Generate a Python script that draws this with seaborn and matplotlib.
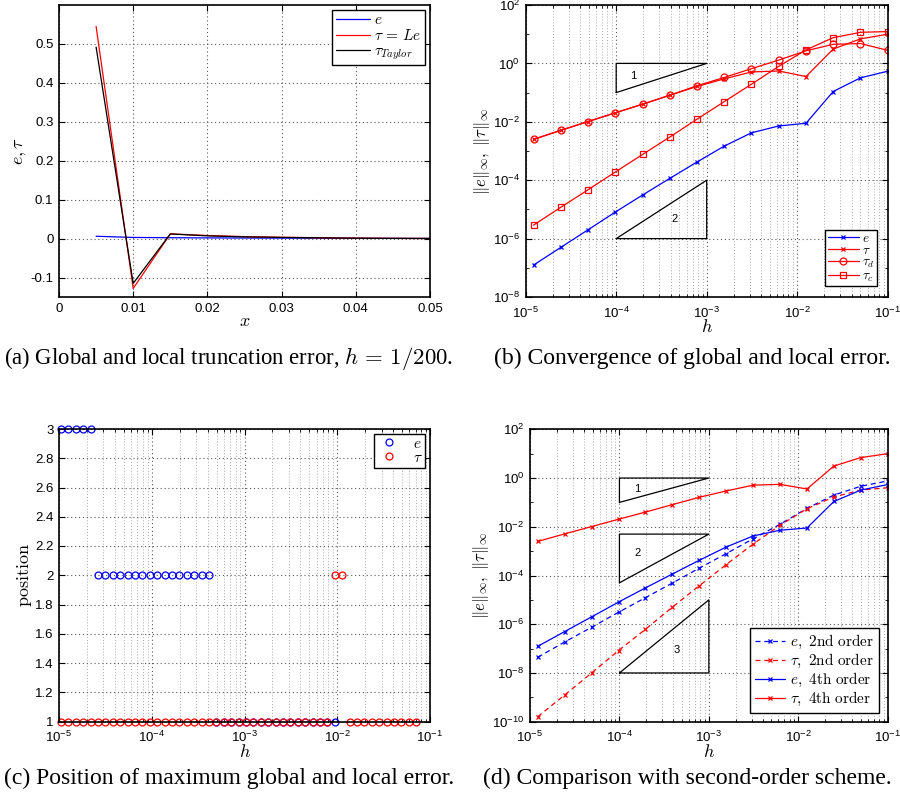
import numpy as np
import pandas as pd
import matplotlib
matplotlib.use("Agg")
import matplotlib.pyplot as plt
import seaborn as sns
from matplotlib.ticker import FixedLocator, FuncFormatter, NullFormatter, LogLocator

# ---------------- data ----------------
# (a) global / local truncation error, h = 1/200
x_a = [0.005, 0.010, 0.015, 0.020, 0.025, 0.030, 0.035, 0.040, 0.045, 0.050, 0.055]
e_a = [0.006, 0.003, 0.0022, 0.0018, 0.0015, 0.0012, 0.0010, 0.0008, 0.0006, 0.0004, 0.0003]
tau_a = [0.545, -0.128, 0.012, 0.008, 0.005, 0.0035, 0.0022, 0.0012, 0.0006, 0.0003, 0.0002]
taylor_a = [0.492, -0.115, 0.012, 0.007, 0.0045, 0.003, 0.002, 0.001, 0.0005, 0.0003, 0.0002]

# (b), (d) convergence
h = [1.2207e-5, 2.4414e-5, 4.8828e-5, 9.7656e-5, 1.9531e-4, 3.9063e-4, 7.8125e-4,
     1.5625e-3, 3.125e-3, 6.25e-3, 1.25e-2, 2.5e-2, 5e-2, 1e-1]
e_conv = [1.24e-7, 5.0e-7, 2.0e-6, 8.1e-6, 3.1e-5, 1.15e-4, 4.2e-4,
          1.47e-3, 4.2e-3, 7.2e-3, 8.9e-3, 0.109, 0.32, 0.54]
tau_conv = [2.5e-3, 5.1e-3, 0.0102, 0.0203, 0.040, 0.081, 0.162,
            0.295, 0.51, 0.55, 0.355, 3.1, 6.9, 10.0]
tau_d = [2.5e-3, 5.1e-3, 0.0102, 0.0203, 0.040, 0.081, 0.172,
         0.33, 0.66, 1.3, 2.7, 4.5, 4.8, 2.8]
tau_c = [2.9e-6, 1.18e-5, 4.7e-5, 1.9e-4, 7.6e-4, 3.0e-3, 0.0123,
         0.049, 0.194, 0.79, 2.9, 7.6, 11.6, 12.3]
e_2nd = [4.4e-8, 1.87e-7, 7.5e-7, 3.1e-6, 1.23e-5, 4.9e-5, 2.0e-4,
         7.9e-4, 3.2e-3, 0.0126, 0.057, 0.20, 0.46, 0.76]
tau_2nd = [1.6e-10, 1.25e-9, 1.0e-8, 8.3e-8, 6.2e-7, 5.0e-6, 3.8e-5,
           2.8e-4, 1.95e-3, 0.0115, 0.055, 0.166, 0.32, 0.40]

# slope triangles (vertices)
tri_b1_x = [1e-4, 1e-3, 1e-4, 1e-4]; tri_b1_y = [0.1, 1.0, 1.0, 0.1]
tri_b2_x = [1e-4, 1e-3, 1e-3, 1e-4]; tri_b2_y = [1e-6, 1e-4, 1e-6, 1e-6]
tri_d1_x = [1e-4, 1e-3, 1e-4, 1e-4]; tri_d1_y = [0.1, 1.0, 1.0, 0.1]
tri_d2_x = [1e-4, 1e-3, 1e-4, 1e-4]; tri_d2_y = [5e-5, 5e-3, 5e-3, 5e-5]
tri_d3_x = [1e-4, 1e-3, 1e-3, 1e-4]; tri_d3_y = [1e-8, 1e-5, 1e-8, 1e-8]

# (c) position of maximum error
h_pos = [1.052e-5, 1.264e-5, 1.519e-5, 1.825e-5, 2.193e-5, 2.635e-5, 3.166e-5, 3.805e-5,
         4.572e-5, 5.494e-5, 6.602e-5, 7.933e-5, 9.532e-5, 1.145e-4, 1.376e-4, 1.654e-4,
         1.987e-4, 2.388e-4, 2.870e-4, 3.448e-4, 4.143e-4, 4.979e-4, 5.983e-4, 7.190e-4,
         8.640e-4, 1.038e-3, 1.248e-3, 1.499e-3, 1.802e-3, 2.165e-3, 2.602e-3, 3.126e-3,
         3.757e-3, 4.514e-3, 5.425e-3, 6.519e-3, 7.833e-3, 9.413e-3, 1.131e-2, 1.359e-2,
         1.633e-2, 1.963e-2, 2.359e-2, 2.835e-2, 3.406e-2, 4.093e-2, 4.918e-2, 5.910e-2,
         7.102e-2]
pos_e = [3, 3, 3, 3, 3,
         2, 2, 2, 2, 2, 2, 2, 2, 2, 2, 2, 2, 2, 2, 2, 2,
         1, 1, 1, 1, 1, 1, 1, 1, 1, 1, 1, 1, 1, 1, 1, 1, 1]
pos_tau = [1, 1, 1, 1, 1, 1, 1, 1, 1, 1, 1, 1, 1, 1, 1, 1, 1, 1, 1, 1,
           1, 1, 1, 1, 1, 1, 1, 1, 1, 1, 1, 1, 1, 1, 1, 1, 1,
           2, 2,
           1, 1, 1, 1, 1, 1, 1, 1, 1, 1]

# ---------------- style ----------------
sns.set_theme(style="ticks")
plt.rcParams.update({
    "font.family": ["Liberation Sans", "DejaVu Sans"],
    "mathtext.fontset": "cm",
    "axes.edgecolor": "black",
    "axes.linewidth": 1.2,
    "axes.labelcolor": "black",
    "text.color": "black",
    "xtick.color": "black", "ytick.color": "black",
    "xtick.labelsize": 9.5, "ytick.labelsize": 9.5,
    "xtick.direction": "in", "ytick.direction": "in",
    "xtick.top": True, "ytick.right": True,
    "xtick.major.size": 4, "ytick.major.size": 4,
    "xtick.minor.size": 2, "ytick.minor.size": 2,
    "xtick.major.width": 0.8, "ytick.major.width": 0.8,
    "xtick.minor.width": 0.6, "ytick.minor.width": 0.6,
    "xtick.major.pad": 6, "ytick.major.pad": 4,
    "legend.fancybox": False,
})

W, H = 900, 801
fig = plt.figure(figsize=(9.0, 8.01), dpi=100)


def px_axes(l, t, r, b):
    return fig.add_axes([l / W, 1 - b / H, (r - l) / W, (b - t) / H])


ax_a = px_axes(59, 5, 430, 297)
ax_b = px_axes(525.7, 5, 887.7, 297)
ax_c = px_axes(59, 429, 430, 721.5)
ax_d = px_axes(530, 429.3, 887.7, 721.7)

grid_major = dict(ls=(0, (1, 2.5)), color="0.35", lw=0.8)
grid_minor = dict(ls=(0, (1, 2.5)), color="0.55", lw=0.6)
lab_fs = 13
leg_fs = 11
norm_label = r"$\Vert e\Vert_\infty,\;\Vert\tau\Vert_\infty$"
decfmt = FuncFormatter(lambda v, p: "%g" % v)
powfmt = FuncFormatter(lambda v, p: r"$\mathdefault{10^{%d}}$" % round(np.log10(v)))


def line(ax, x, y, color, **kw):
    kw.setdefault("lw", 0.9)
    sns.lineplot(x=x, y=y, ax=ax, color=color, estimator=None, sort=False, **kw)


def leg_frame(leg):
    fr = leg.get_frame()
    fr.set_edgecolor("black")
    fr.set_linewidth(1.0)
    fr.set_alpha(1)


# ---------------- (a) ----------------
ax = ax_a
line(ax, x_a, e_a, "blue", label=r"$e$")
line(ax, x_a, tau_a, "red", label=r"$\tau\,=\,Le$")
line(ax, x_a, taylor_a, "black", label=r"$\tau_{Taylor}$")
ax.set_xlim(0, 0.05)
ax.set_ylim(-0.15, 0.6)
ax.xaxis.set_major_locator(FixedLocator([0, 0.01, 0.02, 0.03, 0.04, 0.05]))
ax.yaxis.set_major_locator(FixedLocator([-0.1, 0, 0.1, 0.2, 0.3, 0.4, 0.5]))
ax.xaxis.set_major_formatter(decfmt)
ax.yaxis.set_major_formatter(decfmt)
ax.tick_params(axis="x", pad=4)
ax.grid(True, which="major", **grid_major)
ax.set_xlabel(r"$x$", fontsize=lab_fs, labelpad=-1)
ax.set_ylabel(r"$e,\tau$", fontsize=lab_fs, labelpad=1)
leg = ax.legend(loc="upper right", fontsize=leg_fs, handlelength=2.2, borderaxespad=0.3,
                labelspacing=0.05, borderpad=0.25, handletextpad=0.3)
leg_frame(leg)


def log_setup(ax, ymajor, yminor):
    ax.set_xscale("log")
    ax.set_yscale("log")
    ax.set_xlim(1e-5, 1e-1)
    ax.xaxis.set_major_locator(FixedLocator([1e-5, 1e-4, 1e-3, 1e-2, 1e-1]))
    ax.xaxis.set_minor_locator(LogLocator(base=10, subs=np.arange(2, 10), numticks=20))
    ax.xaxis.set_major_formatter(powfmt)
    ax.xaxis.set_minor_formatter(NullFormatter())
    ax.yaxis.set_major_locator(FixedLocator(ymajor))
    ax.yaxis.set_minor_locator(FixedLocator(yminor))
    ax.yaxis.set_major_formatter(powfmt)
    ax.yaxis.set_minor_formatter(NullFormatter())
    ax.grid(True, which="major", **grid_major)
    ax.grid(True, which="minor", axis="x", **grid_minor)


# ---------------- (b) ----------------
ax = ax_b
log_setup(ax, [1e-8, 1e-6, 1e-4, 1e-2, 1e0, 1e2], [1e-7, 1e-5, 1e-3, 1e-1, 1e1])
ax.set_ylim(1e-8, 1e2)
line(ax, h, e_conv, "blue", marker="x", ms=3.5, mec="blue", mew=0.9, label=r"$e$")
line(ax, h, tau_conv, "red", marker="x", ms=3.5, mec="red", mew=0.9, label=r"$\tau$")
line(ax, h, tau_d, "red", marker="o", ms=5, mec="red", mfc="none", mew=0.9, label=r"$\tau_d$")
line(ax, h, tau_c, "red", marker="s", ms=4.5, mec="red", mfc="none", mew=0.9, label=r"$\tau_c$")
ax.plot(tri_b1_x, tri_b1_y, color="black", lw=0.9)
ax.plot(tri_b2_x, tri_b2_y, color="black", lw=0.9)
ax.text(1.55e-4, 0.37, "1", fontsize=8, ha="center", va="center")
ax.text(4.4e-4, 4.8e-6, "2", fontsize=8, ha="center", va="center")
ax.set_xlabel(r"$h$", fontsize=lab_fs, labelpad=-1)
ax.set_ylabel(norm_label, fontsize=12, labelpad=1)
leg = ax.legend(loc="lower right", fontsize=9.5, handlelength=2.4, borderaxespad=0.8,
                labelspacing=0.0, borderpad=0.2, handletextpad=0.2)
leg_frame(leg)

# ---------------- (c) ----------------
ax = ax_c
ax.set_xscale("log")
ax.set_xlim(1e-5, 1e-1)
ax.set_ylim(1, 3)
line(ax, h_pos[:len(pos_e)], pos_e, "blue", marker="o", ms=5, mec="blue", mfc="none",
     mew=0.9, linestyle="none", clip_on=False, label=r"$e$")
line(ax, h_pos, pos_tau, "red", marker="o", ms=5, mec="red", mfc="none",
     mew=0.9, linestyle="none", clip_on=False, label=r"$\tau$")
ax.xaxis.set_major_locator(FixedLocator([1e-5, 1e-4, 1e-3, 1e-2, 1e-1]))
ax.xaxis.set_minor_locator(LogLocator(base=10, subs=np.arange(2, 10), numticks=20))
ax.xaxis.set_major_formatter(powfmt)
ax.xaxis.set_minor_formatter(NullFormatter())
ax.yaxis.set_major_locator(FixedLocator([1, 1.2, 1.4, 1.6, 1.8, 2, 2.2, 2.4, 2.6, 2.8, 3]))
ax.yaxis.set_major_formatter(decfmt)
ax.grid(True, which="major", **grid_major)
ax.grid(True, which="minor", axis="x", **grid_minor)
ax.set_xlabel(r"$h$", fontsize=lab_fs, labelpad=-1)
ax.set_ylabel(r"$\mathrm{position}$", fontsize=lab_fs, labelpad=1)
leg = ax.legend(loc="upper right", fontsize=leg_fs, handlelength=1.5, borderaxespad=0.3,
                labelspacing=0.0, borderpad=0.2, handletextpad=0.8)
leg_frame(leg)

# ---------------- (d) ----------------
ax = ax_d
log_setup(ax, [1e-10, 1e-8, 1e-6, 1e-4, 1e-2, 1e0, 1e2],
          [1e-9, 1e-7, 1e-5, 1e-3, 1e-1, 1e1])
ax.set_ylim(1e-10, 1e2)
dash = (0, (4, 3))
line(ax, h, e_2nd, "blue", marker="x", ms=3.5, mec="blue", mew=0.9, linestyle=dash,
     label=r"$e,\ \mathrm{2nd\ order}$")
line(ax, h, tau_2nd, "red", marker="x", ms=3.5, mec="red", mew=0.9, linestyle=dash,
     label=r"$\tau,\ \mathrm{2nd\ order}$")
line(ax, h, e_conv, "blue", marker="x", ms=3.5, mec="blue", mew=0.9,
     label=r"$e,\ \mathrm{4th\ order}$")
line(ax, h, tau_conv, "red", marker="x", ms=3.5, mec="red", mew=0.9,
     label=r"$\tau,\ \mathrm{4th\ order}$")
for tx, ty in [(tri_d1_x, tri_d1_y), (tri_d2_x, tri_d2_y), (tri_d3_x, tri_d3_y)]:
    ax.plot(tx, ty, color="black", lw=0.9)
ax.text(1.6e-4, 0.35, "1", fontsize=8, ha="center", va="center")
ax.text(1.6e-4, 8.1e-4, "2", fontsize=8, ha="center", va="center")
ax.text(4.4e-4, 8.7e-8, "3", fontsize=8, ha="center", va="center")
ax.set_xlabel(r"$h$", fontsize=lab_fs, labelpad=-1)
ax.set_ylabel(norm_label, fontsize=12, labelpad=1)
leg = ax.legend(loc="lower right", fontsize=leg_fs, handlelength=2.0, borderaxespad=0.6,
                labelspacing=0.05, borderpad=0.3, handletextpad=0.3)
leg_frame(leg)

# ---------------- captions ----------------
cap = dict(family=["Liberation Serif", "DejaVu Serif"], ha="center", va="center")
fig.text(229 / W, 1 - 358 / H, r"(a) Global and local truncation error, $h\,=\,1/200$.",
         fontsize=16.4, **cap)
fig.text(692 / W, 1 - 358 / H, "(b) Convergence of global and local error.", fontsize=17, **cap)
fig.text(229 / W, 1 - 778 / H, "(c) Position of maximum global and local error.",
         fontsize=17, **cap)
fig.text(687 / W, 1 - 778 / H, "(d) Comparison with second-order scheme.", fontsize=17, **cap)

fig.savefig("out.png", dpi=100)
